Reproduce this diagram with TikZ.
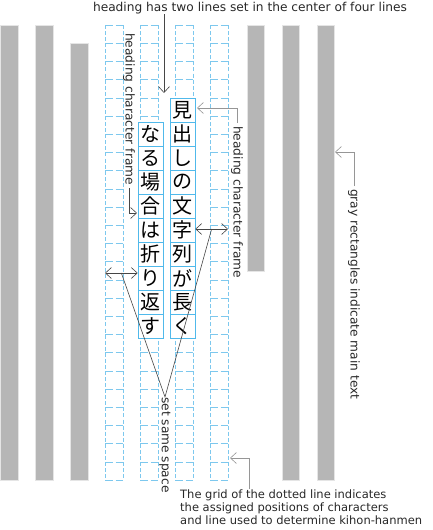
\documentclass[tikz,border=0pt]{standalone}
\usepackage{fontspec}
\setmainfont{DejaVu Sans}
\newfontfamily\cjk{Noto Sans CJK JP}
\usepackage{tikz}
\usetikzlibrary{arrows.meta, calc}
\definecolor{maingray}{RGB}{182,182,182}
\definecolor{gridblue}{RGB}{125,200,238}
\definecolor{frameblue}{RGB}{80,185,235}
\definecolor{linedark}{RGB}{70,70,70}
\definecolor{linelight}{RGB}{150,150,150}
\definecolor{notetext}{RGB}{40,40,40}
\tikzset{
  textbar/.style={fill=maingray, draw=black!10, line width=0.5pt},
  gridv/.style={draw=gridblue, line width=0.6pt, dash pattern=on 4pt off 2.07pt},
  gridh/.style={draw=gridblue, line width=0.6pt, dash pattern=on 7.5pt off 3pt},
  headchar/.style={rectangle, draw=frameblue, fill=white, line width=0.6pt,
    minimum width=25pt, minimum height=24pt, inner sep=0pt,
    font=\cjk\fontsize{20}{20}\selectfont},
  note/.style={font=\fontsize{12.2}{13}\selectfont, text=notetext, inner sep=0pt},
  vnote/.style={note, rotate=-90, anchor=west},
  pointer/.style={-{Straight Barb[length=6pt,width=11pt]}, line width=0.6pt, color=linedark},
  twoway/.style={{Straight Barb[length=6pt,width=11pt]}-{Straight Barb[length=6pt,width=11pt]},
    line width=0.6pt, color=linedark},
  leader/.style={line width=0.6pt, color=linedark}
}
\begin{document}
\begin{tikzpicture}[x=1pt, y=-1pt]
  \useasboundingbox (0,0) rectangle (433,530);

  % main text (gray bars)
  \fill[textbar] (0,25) rectangle (18,480);
  \fill[textbar] (35,25) rectangle (53,480);
  \fill[textbar] (70,43) rectangle (88,480);
  \fill[textbar] (247,25) rectangle (264,271);
  \fill[textbar] (282,25) rectangle (299,480);
  \fill[textbar] (317,25) rectangle (334,480);

  % grid of four lines
  \foreach \gx in {105,140,175,210} {
    \draw[gridv] (\gx,25) -- (\gx,480);
    \draw[gridv] (\gx+18,25) -- (\gx+18,480);
    \foreach \r in {0,...,25}
      \draw[gridh] (\gx,{25+\r*18.2}) -- ++(18,0);
  }

  % heading, two lines
  \foreach \c [count=\i] in {見,出,し,の,文,字,列,が,長,く}
    \node[headchar] (ha\i) at (182.5,{86+24*\i}) {\c};
  \foreach \c [count=\i] in {な,る,場,合,は,折,り,返,す}
    \node[headchar] (hb\i) at (150.5,{110+24*\i}) {\c};

  % top note
  \node[note] (toplbl) at (250,8) {heading has two lines set in the center of four lines};
  \coordinate (toptip) at (164,93);
  \draw[pointer] (toplbl.south -| toptip) -- (toptip);

  % heading frame notes
  \node[vnote] (lfrlbl) at (129,33) {heading character frame};
  \coordinate (lfrtip) at (137,213);
  \draw[pointer, shorten <=3pt] (lfrlbl.east) |- (lfrtip);

  \node[vnote] (rfrlbl) at (237,126) {heading character frame};
  \coordinate (rfrtip) at (197,108);
  \draw[pointer, color=linelight, shorten <=3pt] (rfrlbl.west) |- (rfrtip);

  % main text note
  \node[vnote] (grlbl) at (354,189) {gray rectangles indicate main text};
  \coordinate (grtip) at (335,152);
  \draw[pointer, color=linelight, shorten <=3pt] (grlbl.west) |- (grtip);

  % same space
  \coordinate (gl) at (105,273);
  \coordinate (gr) at (228,229);
  \draw[twoway] (gl) -- (gl -| hb7.west);
  \draw[twoway] (ha6.east |- gr) -- (gr);
  \node[vnote] (ssplbl) at (165,397) {set same space};
  \draw[leader] ($(gl)!0.5!(gl -| hb7.west)$) -- (ssplbl.west)
    -- ($(ha6.east |- gr)!0.5!(gr)$);

  % grid note
  \node[note, font=\fontsize{11.5}{13}\selectfont, anchor=north west, align=left] (gridlbl) at (180,490)
    {The grid of the dotted line indicates\\the assigned positions of characters\\and line used to determine kihon-hanmen};
  \coordinate (gridtip) at (230,458);
  \draw[pointer, color=linelight] ($(gridlbl.north west)+(69,-1)$) |- (gridtip);
\end{tikzpicture}
\end{document}
